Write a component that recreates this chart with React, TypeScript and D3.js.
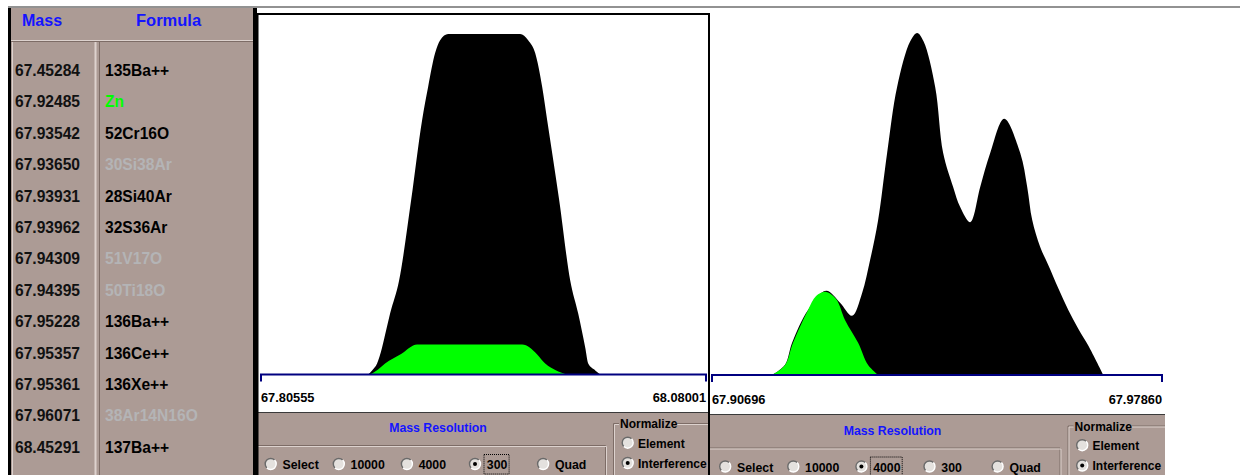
import React from "react";
import * as d3 from "d3";

// interference table (left panel)
const tableMasses = ["67.45284", "67.92485", "67.93542", "67.93650", "67.93931", "67.93962", "67.94309", "67.94395", "67.95228", "67.95357", "67.95361", "67.96071", "68.45291"];
const tableFormulas = ["135Ba++", "Zn", "52Cr16O", "30Si38Ar", "28Si40Ar", "32S36Ar", "51V17O", "50Ti18O", "136Ba++", "136Ce++", "136Xe++", "38Ar14N16O", "137Ba++"];
const tableKinds = ["hit", "element", "hit", "minor", "hit", "hit", "minor", "minor", "hit", "hit", "hit", "minor", "hit"];

// resolution 300 profile
const lowResDomain = [67.80555, 68.08001];
const lowResMass = [67.87159, 67.87406, 67.87714, 67.88023, 67.8827, 67.88517, 67.89072, 67.89813, 67.90491, 67.90862, 67.91294, 67.91602, 67.92096, 67.9654, 67.97033, 67.97465, 67.97898, 67.98206, 67.98947, 67.99626, 68.00119, 68.00551, 68.00736, 68.01169, 68.01477];
const lowResTotal = [0, 0.012, 0.032, 0.079, 0.129, 0.179, 0.276, 0.512, 0.747, 0.844, 0.944, 0.982, 1, 1, 0.982, 0.944, 0.844, 0.747, 0.512, 0.276, 0.179, 0.079, 0.032, 0.012, 0];
const lowResZnMass = [67.87282, 67.87776, 67.88208, 67.89195, 67.90183, 67.96663, 67.97589, 67.98083, 67.98762, 67.9944];
const lowResZn = [0, 0.015, 0.032, 0.06, 0.088, 0.088, 0.059, 0.032, 0.012, 0];

// resolution 4000 profile
const highResDomain = [67.90696, 67.9786];
const highResMass = [67.91652, 67.91859, 67.91971, 67.92225, 67.92512, 67.92735, 67.92926, 67.93086, 67.93213, 67.93341, 67.93484, 67.93643, 67.9385, 67.93962, 67.94065, 67.94249, 67.94376, 67.94535, 67.94647, 67.94806, 67.94966, 67.95125, 67.95348, 67.95603, 67.95714, 67.95794, 67.95921, 67.96049, 67.96209, 67.96368, 67.96527, 67.96686, 67.96925];
const highResTotal = [0, 0.03, 0.094, 0.19, 0.246, 0.211, 0.173, 0.24, 0.336, 0.453, 0.649, 0.842, 0.975, 1, 0.975, 0.842, 0.649, 0.55, 0.491, 0.447, 0.55, 0.649, 0.749, 0.649, 0.55, 0.453, 0.374, 0.322, 0.254, 0.19, 0.135, 0.086, 0];
const highResZnMass = [67.91652, 67.91859, 67.91986, 67.92225, 67.92353, 67.92512, 67.92672, 67.92815, 67.93022, 67.93181, 67.93341];
const highResZn = [0, 0.029, 0.094, 0.19, 0.231, 0.243, 0.222, 0.16, 0.094, 0.029, 0];

const resolutions = ["Select", "10000", "4000", "300", "Quad"];
const normalizeModes = ["Element", "Interference"];

const PANEL = "#ac9b95";
const DARK = "#7d6c66";
const LIGHT = "#ddd2ce";
const BLUE = "#1414ff";
const NAVY = "#000080";
const SANS = "'Liberation Sans', Arial, sans-serif";
const kindColor: Record<string, string> = { hit: "#000000", element: "#00ff00", minor: "#b4b4b6" };

function Radio({ cx, cy, on }: { cx: number; cy: number; on: boolean }) {
  const r = 5.5;
  const a = r * Math.SQRT1_2;
  return (
    <g>
      <circle cx={cx} cy={cy} r={r} fill="#e4e1de" />
      <path d={`M${cx - a},${cy + a}A${r},${r} 0 0 1 ${cx + a},${cy - a}`} fill="none" stroke="#6a6a6a" strokeWidth={1.4} />
      <path d={`M${cx + a},${cy - a}A${r},${r} 0 0 1 ${cx - a},${cy + a}`} fill="none" stroke="#ffffff" strokeWidth={1.4} />
      {on && <circle cx={cx} cy={cy} r={2} fill="#000" />}
    </g>
  );
}

function Spectrum(props: {
  domain: number[]; mass: number[]; total: number[]; znMass: number[]; zn: number[];
  x0: number; x1: number; base: number; top: number; labelY: number; curve: d3.CurveFactory;
}) {
  const { domain, mass, total, znMass, zn, x0, x1, base, top, labelY, curve } = props;
  const x = d3.scaleLinear().domain(domain).range([x0, x1]);
  const y = d3.scaleLinear().domain([0, 1]).range([base, top]);
  const area = d3.area<[number, number]>()
    .x(d => x(d[0]))
    .y0(y(0))
    .y1(d => Math.min(y(0), y(d[1])))
    .curve(curve);
  const fmt = (v: number) => v.toFixed(5);
  return (
    <g>
      <path d={area(d3.zip(mass, total) as [number, number][]) || ""} fill="#000" />
      <path d={area(d3.zip(znMass, zn) as [number, number][]) || ""} fill="#00ff00" />
      <path d={`M${x0},${base + 7}V${base}H${x1}V${base + 7}`} fill="none" stroke={NAVY} strokeWidth={2} />
      <text x={x0} y={labelY} fontFamily={SANS} fontWeight="bold" fontSize={12.8}>{fmt(domain[0])}</text>
      <text x={x1} y={labelY} fontFamily={SANS} fontWeight="bold" fontSize={12.8} textAnchor="end">{fmt(domain[1])}</text>
    </g>
  );
}

function Controls({ id, x0, x1, y0, ox, oy, checked }: { id: string; x0: number; x1: number; y0: number; ox: number; oy: number; checked: number }) {
  const cy = oy + 52;
  const cxs = resolutions.map((_, i) => ox + 12.7 + i * 68.1);
  const labelW = (s: string) => s.length * 6.7 - (s === "Select" ? 5 : 0);
  return (
    <g clipPath={`url(#${id})`}>
      <clipPath id={id}><rect x={x0} y={y0} width={x1 - x0} height={475 - y0} /></clipPath>
      <rect x={x0} y={y0} width={x1 - x0} height={475 - y0} fill={PANEL} />
      <line x1={x0} x2={x1} y1={y0 + 0.5} y2={y0 + 0.5} stroke="#3a3a3a" />
      <text x={ox + 180} y={oy + 20} textAnchor="middle" fontFamily={SANS} fontWeight="bold" fontSize={12.3} fill={BLUE}>Mass Resolution</text>
      <path d={`M${x0},${oy + 33.5}H${ox + 347.5}V475`} fill="none" stroke={DARK} />
      <path d={`M${x0},${oy + 34.5}H${ox + 348.5}V475`} fill="none" stroke={LIGHT} />
      {resolutions.map((r, i) => (
        <g key={r}>
          <Radio cx={cxs[i]} cy={cy} on={i === checked} />
          <text x={cxs[i] + 11.8} y={cy + 5} fontFamily={SANS} fontWeight="bold" fontSize={12.3}>{r}</text>
          {i === checked && (
            <rect x={cxs[i] + 9} y={cy - 9.5} width={labelW(r) + 5} height={19.5} fill="none" stroke="#000" strokeDasharray="1,1" />
          )}
        </g>
      ))}
      <path d={`M${ox + 361},${oy + 11.5}H${ox + 355.5}V475`} fill="none" stroke={DARK} />
      <path d={`M${ox + 361},${oy + 12.5}H${ox + 356.5}V475`} fill="none" stroke={LIGHT} />
      <path d={`M${ox + 419},${oy + 11.5}H${x1}`} fill="none" stroke={DARK} />
      <path d={`M${ox + 419},${oy + 12.5}H${x1}`} fill="none" stroke={LIGHT} />
      <text x={ox + 362} y={oy + 16} fontFamily={SANS} fontWeight="bold" fontSize={12}>Normalize</text>
      {normalizeModes.map((m, i) => (
        <g key={m}>
          <Radio cx={ox + 369.7} cy={oy + 30.7 + i * 20.3} on={i === 1} />
          <text x={ox + 380} y={oy + 35.5 + i * 20.3} fontFamily={SANS} fontWeight="bold" fontSize={12}>{m}</text>
        </g>
      ))}
    </g>
  );
}

export default function App() {
  const rowY = (i: number) => 76 + i * 31.4;
  return (
    <svg width={1240} height={475} style={{ position: "absolute", left: 0, top: 0, background: "#fff" }}>
      {/* page top rule */}
      <line x1={8} x2={1240} y1={7} y2={7} stroke="#6e6e6e" strokeWidth={1.5} />

      {/* interference table */}
      <rect x={8} y={8} width={249} height={467} fill={PANEL} />
      <rect x={8} y={8} width={3} height={467} fill="#000" />
      <rect x={253} y={8} width={4} height={467} fill="#000" />
      <line x1={11} x2={253} y1={40.5} y2={40.5} stroke={LIGHT} />
      <line x1={11} x2={253} y1={41.5} y2={41.5} stroke={DARK} />
      <line x1={12.5} x2={12.5} y1={42} y2={475} stroke={LIGHT} />
      <line x1={95.5} x2={95.5} y1={42} y2={475} stroke={LIGHT} strokeWidth={2} />
      <line x1={99.5} x2={99.5} y1={42} y2={475} stroke={DARK} />
      <text x={22} y={26} fontFamily={SANS} fontWeight="bold" fontSize={16} fill={BLUE}>Mass</text>
      <text x={136} y={26} fontFamily={SANS} fontWeight="bold" fontSize={16.5} fill={BLUE}>Formula</text>
      {tableMasses.map((m, i) => (
        <g key={m} fontFamily={SANS} fontWeight="bold" fontSize={15.6}>
          <text x={15} y={rowY(i)} fill="#111">{m}</text>
          <text x={105} y={rowY(i)} fill={kindColor[tableKinds[i]]}>{tableFormulas[i]}</text>
        </g>
      ))}

      {/* left spectrum: resolution 300 */}
      <Spectrum domain={lowResDomain} mass={lowResMass} total={lowResTotal} znMass={lowResZnMass} zn={lowResZn}
        x0={261} x1={706} base={374.5} top={34} labelY={402} curve={d3.curveMonotoneX} />
      <Controls id="clipL" x0={258} x1={709} y0={412} ox={258} oy={412} checked={3} />

      {/* right spectrum: resolution 4000 */}
      <Spectrum domain={highResDomain} mass={highResMass} total={highResTotal} znMass={highResZnMass} zn={highResZn}
        x0={712} x1={1162} base={375} top={33} labelY={404} curve={d3.curveCatmullRom.alpha(0.5)} />
      <Controls id="clipR" x0={710} x1={1165} y0={414} ox={712.5} oy={414.5} checked={2} />

      {/* frame of the left plot */}
      <line x1={256.5} x2={710} y1={14} y2={14} stroke="#000" strokeWidth={2} />
      <line x1={257.5} x2={257.5} y1={13} y2={475} stroke="#000" strokeWidth={2} />
      <line x1={709} x2={709} y1={13} y2={475} stroke="#000" strokeWidth={2} />
    </svg>
  );
}
